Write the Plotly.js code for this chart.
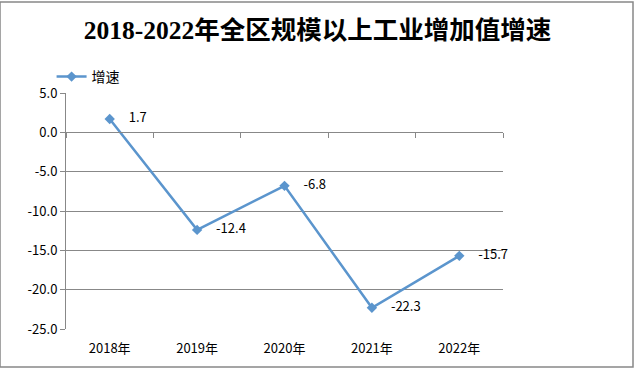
<!DOCTYPE html>
<html><head><meta charset="utf-8">
<script src="https://cdn.plot.ly/plotly-3.0.1.min.js"></script>
<style>html,body{margin:0;padding:0;background:#fff}#c{width:635px;height:369px}</style>
</head><body><div id="c"></div>
<script>
const categories = ["2018年","2019年","2020年","2021年","2022年"];
const values = [1.7, -12.4, -6.8, -22.3, -15.7];
const seriesName = "增速";
const titleText = "2018-2022年全区规模以上工业增加值增速";
const yTickVals = [5,0,-5,-10,-15,-20,-25];
const yTickText = ["5.0","0.0","-5.0","-10.0","-15.0","-20.0","-25.0"];

const tf = "'Noto Sans CJK SC', sans-serif";
const data = [
  {x: categories, y: values, type: "scatter", mode: "lines+markers+text", name: seriesName,
   line: {color: "#5b95cd", width: 2.5}, marker: {symbol: "diamond", size: 8, color: "#5b95cd"},
   text: values.map(v => "\u2002\u2002" + v.toFixed(1)), textposition: "middle right",
   textfont: {family: tf, size: 13, color: "#000"}, cliponaxis: false},
  {x: categories, y: values.map(v => 0), type: "scatter", mode: "markers", xaxis: "x2", yaxis: "y2", showlegend: false,
   hoverinfo: "skip", marker: {size: 1, color: "rgba(0,0,0,0)"}}
];
const layout = {
  width: 635, height: 369,
  margin: {l: 66, r: 132, t: 93, b: 40},
  paper_bgcolor: "#fff", plot_bgcolor: "rgba(0,0,0,0)",
  title: {text: titleText, x: 0.5, xanchor: "center", y: 0.918, yanchor: "middle",
    font: {family: "'Liberation Serif', 'Noto Sans CJK SC', serif", size: 25.5, color: "#000", weight: "bold"}},
  showlegend: true,
  legend: {x: -0.033, xref: "paper", y: 1 + 16/236, yanchor: "middle", xanchor: "left", orientation: "h",
    font: {family: tf, size: 14, color: "#000"}, bgcolor: "rgba(0,0,0,0)"},
  xaxis: {type: "category", range: [-0.5, 4.5], showgrid: false, showline: false, ticks: "", zeroline: false,
    ticklabelstandoff: 10,
    tickfont: {family: tf, size: 13, color: "#000"}, fixedrange: true},
  xaxis2: {type: "category", range: [-0.5, 4.5], anchor: "y2", domain: [0, 1],
    showline: true, linecolor: "#888", linewidth: 1, ticks: "outside", ticklen: 5, tickcolor: "#888", tickwidth: 1,
    tickson: "boundaries", showticklabels: true, tickfont: {size: 1, color: "rgba(0,0,0,0)"},
    showgrid: false, zeroline: false},
  yaxis2: {domain: [5/6, 1], anchor: "x2", showticklabels: false, showgrid: false, zeroline: false,
    showline: false, ticks: "", range: [-1, 1]},
  yaxis: {range: [-25, 5], tickvals: yTickVals, ticktext: yTickText, showgrid: true, gridcolor: "#888",
    gridwidth: 1, zeroline: false, showline: true, linecolor: "#888", ticks: "outside", ticklen: 5,
    tickcolor: "#888", tickfont: {family: tf, size: 13, color: "#000"}},
  shapes: [{type: "rect", xref: "paper", yref: "paper", x0: -66/437, x1: 1 + 130/437, y0: -38/236, y1: 1 + 91/236,
    line: {color: "#888", width: 1.5}, fillcolor: "rgba(0,0,0,0)"}]
};
Plotly.newPlot("c", data, layout, {staticPlot: true});
</script></body></html>
